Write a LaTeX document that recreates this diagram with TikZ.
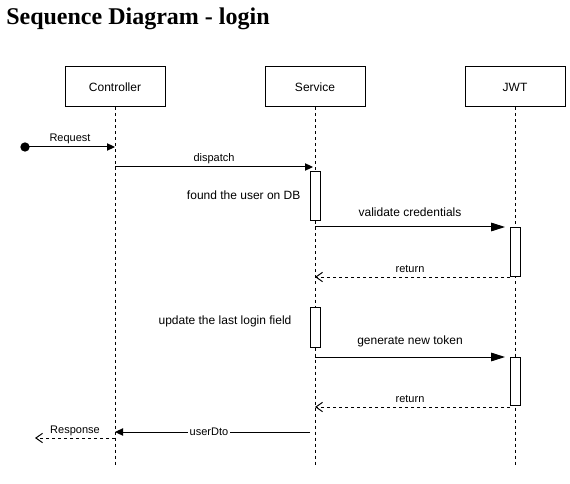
\documentclass[tikz,border=0pt]{standalone}
\usepackage{fontspec}
\setmainfont{Liberation Sans}
\newfontfamily\titlefont{Liberation Serif}
\usetikzlibrary{arrows.meta}
\tikzset{
  head/.style={draw, line width=0.75pt, fill=white, minimum width=75pt, minimum height=30pt, inner sep=0pt, font=\fontsize{9}{11}\selectfont},
  life/.style={line width=0.75pt, dash pattern=on 2.25pt off 2.25pt},
  actbox/.style={draw, line width=0.75pt, fill=white, minimum width=7.5pt, inner sep=0pt},
  msg/.style={line width=0.75pt, -{Triangle[length=6pt,width=5.5pt]}},
  bigmsg/.style={line width=0.75pt, -{Triangle[length=10.5pt,width=6.5pt]}},
  ret/.style={line width=0.75pt, dash pattern=on 2.25pt off 2.25pt, -{Straight Barb[length=5pt,width=7pt,line width=0.75pt]}},
  small/.style={font=\fontsize{8.25}{10}\selectfont, inner sep=1pt},
  mid/.style={font=\fontsize{9}{11}\selectfont, inner sep=1pt},
  dotstyle/.style={circle, fill=black, minimum size=7pt, inner sep=0pt}
}
\begin{document}
\begin{tikzpicture}[x=0.75pt,y=-0.75pt]
\useasboundingbox (0,0) rectangle (570,484);
\node[anchor=base west, inner sep=0pt, font=\titlefont\bfseries\fontsize{18}{20}\selectfont] (title) at (6,25) {Sequence Diagram - login};
% lifeline heads
\node[head] (ctl) at (115,87) {Controller};
\node[head] (srv) at (315,87) {Service};
\node[head] (jwt) at (515,87) {JWT};
\coordinate (ctlend) at (115,465);
\coordinate (srvend) at (315,465);
\coordinate (jwtend) at (515,465);
\draw[life] (ctl.south) -- (ctlend);
\draw[life] (srv.south) -- (srvend);
\draw[life] (jwt.south) -- (jwtend);
% activation boxes
\node[actbox, minimum height=36.75pt] (s1) at (315,196.5) {};
\node[actbox, minimum height=36pt] (j1) at (515,252) {};
\node[actbox, minimum height=30pt] (s2) at (315,327) {};
\node[actbox, minimum height=36pt] (j2) at (515,381) {};
% Request
\node[dotstyle] (req) at (25,147) {};
\coordinate (reqend) at (115,147);
\draw[msg] (req.center) -- (reqend);
\node[small] (reqlbl) at (70,139) {Request};
% dispatch
\coordinate (dis0) at (115,167);
\coordinate (dis1) at (313,167);
\draw[msg] (dis0) -- (dis1);
\node[small] (dislbl) at (214,159) {dispatch};
\node[mid, anchor=east] (found) at (302,195.5) {found the user on DB};
% validate
\coordinate (val0) at (315,227);
\coordinate (val1) at (505,227);
\draw[bigmsg] (val0) -- (val1);
\node[mid] (vallbl) at (410,212.5) {validate credentials};
% return 1
\coordinate (r10) at (510,277);
\coordinate (r11) at (315,277);
\draw[ret] (r10) -- (r11);
\node[small] (r1lbl) at (410,269) {return};
\node[mid, anchor=east] (upd) at (293,321.5) {update the last login field};
% generate
\coordinate (gen0) at (315,357);
\coordinate (gen1) at (505,357);
\draw[bigmsg] (gen0) -- (gen1);
\node[mid] (genlbl) at (410,341.5) {generate new token};
% return 2
\coordinate (r20) at (510,407);
\coordinate (r21) at (315,407);
\draw[ret] (r20) -- (r21);
\node[small] (r2lbl) at (410,399) {return};
% userDto
\coordinate (u0) at (310,432);
\coordinate (u1) at (115,432);
\draw[msg] (u0) -- (u1);
\node[small, fill=white] (ulbl) at (209,432) {userDto};
% Response
\coordinate (resp0) at (115,438);
\coordinate (resp1) at (35,438);
\draw[ret] (resp0) -- (resp1);
\node[small] (resplbl) at (75,431) {Response};
\end{tikzpicture}
\end{document}
